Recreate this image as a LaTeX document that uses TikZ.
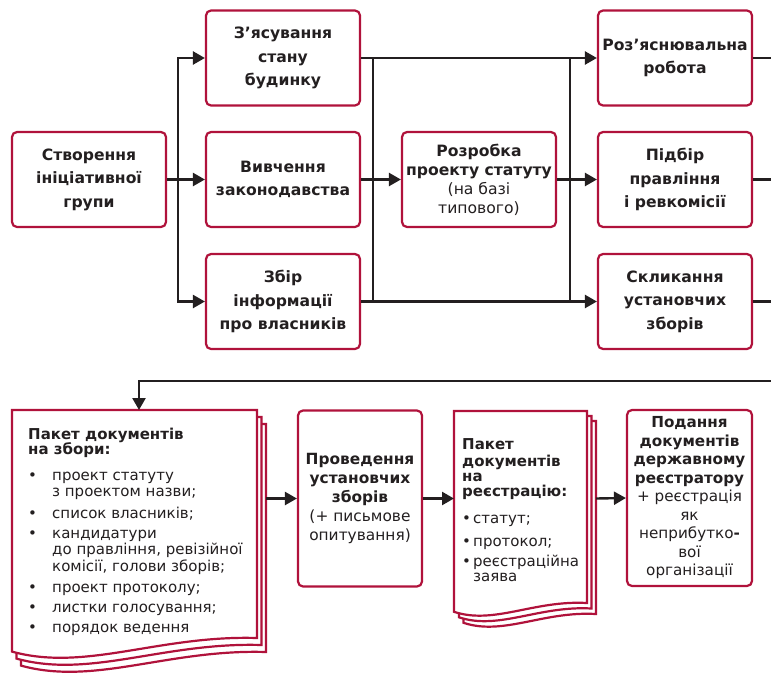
\documentclass[tikz,border=0pt]{standalone}
\usepackage{fontspec}
\setmainfont{DejaVu Sans}
\usetikzlibrary{arrows.meta}
\definecolor{crim}{HTML}{B0123B}
\definecolor{ink}{HTML}{231F20}
\tikzset{
  box/.style={draw=crim, line width=2.2pt, rounded corners=5pt, fill=white,
    minimum width=154pt, minimum height=95pt, align=center, text=ink, inner sep=1pt,
    font=\fontsize{15.6}{23.5}\selectfont\bfseries},
  conn/.style={draw=ink, line width=2.4pt},
  arr/.style={conn, -{Triangle[length=12pt,width=13pt]}},
  page/.style={draw=crim, line width=2.2pt, fill=white, line join=miter},
  doctext/.style={anchor=north west, inner sep=0pt, text=ink, font=\fontsize{15}{16}\selectfont},
}
\newcommand\docpage[5]{%
  \pgfmathsetmacro\dw{#3-#1}%
  \draw[page] (#1,#2) -- (#3,#2) -- (#3,#4)
    .. controls ({#3-0.4*\dw},{#4-3}) and ({#1+0.3*\dw},{#4+#5}) .. (#1,{#4+0.4*#5}) -- cycle;}
\begin{document}
\begin{tikzpicture}[x=1pt,y=-1pt]
\useasboundingbox (0,0) rectangle (771,680);

% top row boxes
\node[box] (A) at (89,179.5) {Створення\\ініціативної\\групи};
\node[box] (B1) at (283,58) {З’ясування\\стану\\будинку};
\node[box] (B2) at (283,179.5) {Вивчення\\законодавства};
\node[box] (B3) at (283,301.5) {Збір\\інформації\\про власників};
\node[box, font=\fontsize{15.6}{19}\selectfont\bfseries] (C) at (479,179.5)
  {Розробка\\проекту статуту\\{\mdseries (на базі}\\{\mdseries типового)}};
\node[box] (D1) at (675,58) {Роз’яснювальна\\робота};
\node[box] (D2) at (675,179.5) {Підбір\\правління\\і ревкомісії};
\node[box] (D3) at (675,301.5) {Скликання\\установчих\\зборів};

% junction coordinates
\coordinate (j1) at (178,179.5);
\coordinate (j2) at (373,179.5);
\coordinate (j3) at (570,179.5);
\coordinate (redge) at (771,0);
\coordinate (fb) at (771,381);

\draw[conn] (A.east) -- (j1);
\draw[arr] (j1) -- (B2.west);
\draw[arr] (j1) |- (B1.west);
\draw[arr] (j1) |- (B3.west);

\draw[arr] (B1.east) -- (D1.west);
\draw[arr] (B3.east) -- (D3.west);
\draw[conn] (j2 |- B1.east) -- (j2 |- B3.east);
\draw[arr] (B2.east) -- (C.west);
\draw[conn] (j3 |- B1.east) -- (j3 |- B3.east);
\draw[arr] (C.east) -- (D2.west);

\draw[conn] (D1.east) -- (D1.east -| redge);
\draw[conn] (D2.east) -- (D2.east -| redge);
\draw[conn] (D3.east) -- (D3.east -| redge);

% document 1
\docpage{21}{424}{266}{652}{34}
\docpage{16.5}{417}{261.5}{645}{34}
\docpage{12}{410}{257}{638}{34}
\coordinate (d1top) at (139,410);
\coordinate (d1out) at (266,498.5);
\draw[arr] (fb) -| (d1top);
\node[doctext] (T1) at (28,428) {%
\begin{tabular}{@{}p{24pt}@{}l@{}}
\multicolumn{2}{@{}l@{}}{\bfseries Пакет документів}\\[-2pt]
\multicolumn{2}{@{}l@{}}{\bfseries на збори:}\\[10pt]
• & проект статуту\\
  & з проектом назви;\\[6pt]
• & список власників;\\[4pt]
• & кандидатури\\
  & до правління, ревізійної\\
  & комісії, голови зборів;\\[5pt]
• & проект протоколу;\\[4pt]
• & листки голосування;\\[4pt]
• & порядок ведення
\end{tabular}};

% box E
\node[box, minimum width=124pt, minimum height=176pt, font=\fontsize{15.4}{19}\selectfont\bfseries] (E) at (360,498.5)
  {Проведення\\установчих\\зборів\\{\mdseries (+ письмове}\\{\mdseries опитування)}};
\draw[arr] (d1out) -- (E.west);

% document 2
\docpage{463.5}{421}{596}{614}{22}
\docpage{459}{416}{591.5}{608.5}{22}
\docpage{454}{411}{587}{603}{22}
\coordinate (d2in) at (454,498.5);
\coordinate (d2out) at (596,498.5);
\draw[arr] (E.east) -- (d2in);
\node[doctext] (T2) at (462,438.5) {%
\begin{tabular}{@{}p{11pt}@{}l@{}}
\multicolumn{2}{@{}l@{}}{\bfseries Пакет}\\
\multicolumn{2}{@{}l@{}}{\bfseries документів}\\[-1pt]
\multicolumn{2}{@{}l@{}}{\bfseries на}\\[-1pt]
\multicolumn{2}{@{}l@{}}{\bfseries реєстрацію:}\\[11pt]
• & статут;\\[7pt]
• & протокол;\\[4pt]
• & реєстраційна\\[-1pt]
  & заява
\end{tabular}};

% box F
\node[box, minimum width=125pt, minimum height=176pt, font=\fontsize{15.2}{18.5}\selectfont\bfseries] (F) at (689.5,498)
  {Подання\\документів\\державному\\реєстратору\\{\mdseries + реєстрація}\\{\mdseries як}\\{\mdseries неприбутко}-\\{\mdseries вої}\\{\mdseries організації}};
\draw[arr] (d2out) -- (F.west);
\end{tikzpicture}
\end{document}
